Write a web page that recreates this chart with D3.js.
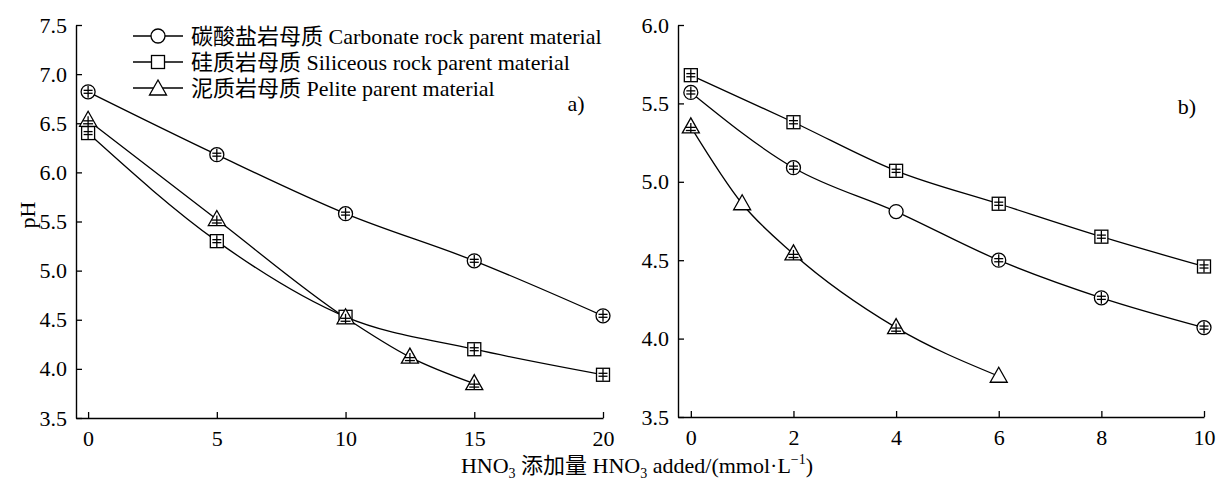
<!DOCTYPE html>
<html><head><meta charset="utf-8">
<script src="https://cdn.jsdelivr.net/npm/d3@7"></script>
<style>
body{margin:0;background:#fff;}
text{font-family:"Liberation Serif","Times New Roman","Noto Sans CJK SC",serif;fill:#000;}
</style></head>
<body><svg id="c" width="1225" height="482"></svg>
<script>
// ---- data ----
const seriesNames = ["碳酸盐岩母质 Carbonate rock parent material","硅质岩母质 Siliceous rock parent material","泥质岩母质 Pelite parent material"];
const seriesShapes = ["circle","square","triangle"];
// panel a
const aX_carb = [0,5,10,15,20];
const aY_carb = [6.82,6.18,5.58,5.10,4.54];
const aX_sil = [0,5,10,15,20];
const aY_sil = [6.40,5.30,4.53,4.20,3.94];
const aX_pel = [0,5,10,12.5,15];
const aY_pel = [6.53,5.52,4.52,4.12,3.85];
// panel b
const bX_carb = [0,2,4,6,8,10];
const bY_carb = [5.57,5.09,4.81,4.50,4.26,4.07];
const bX_sil = [0,2,4,6,8,10];
const bY_sil = [5.68,5.38,5.07,4.86,4.65,4.46];
const bX_pel = [0,1,2,4,6];
const bY_pel = [5.35,4.86,4.54,4.07,3.76];
const errA = 0.015, errB = 0.01;
const aXTicks = [0,5,10,15,20];
const aYTicks = [3.5,4.0,4.5,5.0,5.5,6.0,6.5,7.0,7.5];
const bXTicks = [0,2,4,6,8,10];
const bYTicks = [3.5,4.0,4.5,5.0,5.5,6.0];

const svg = d3.select("#c");
const FS = 22;
const FF = "'Liberation Serif','Times New Roman','Noto Sans CJK SC',serif";

function panel(cfg){
  const g = svg.append("g");
  const x = d3.scaleLinear().domain(cfg.xd).range([cfg.x0, cfg.x1]);
  const y = d3.scaleLinear().domain(cfg.yd).range([cfg.y0, cfg.y1]);
  const xa = g.append("g").attr("transform",`translate(0,${cfg.y0})`)
    .call(d3.axisBottom(x).tickValues(cfg.xt).tickSizeInner(-6).tickSizeOuter(0).tickPadding(12).tickFormat(d3.format("d")));
  const ya = g.append("g").attr("transform",`translate(${cfg.x0},0)`)
    .call(d3.axisLeft(y).tickValues(cfg.yt).tickSizeInner(-6).tickSizeOuter(0).tickPadding(9).tickFormat(d3.format(".1f")));
  [xa,ya].forEach(a=>{a.attr("font-family",FF).attr("font-size",FS);
    a.select(".domain").attr("stroke","#000").attr("stroke-width",1.4);
    a.selectAll(".tick line").attr("stroke","#000").attr("stroke-width",1.3);
    a.selectAll("text").attr("font-size",FS).attr("font-family",FF);});
  xa.selectAll("text").attr("dy","0.71em");
  const line = d3.line().x(d=>x(d[0])).y(d=>y(d[1])).curve(d3.curveMonotoneX);
  cfg.series.forEach((s,i)=>{
    const pts = s.xs.map((v,j)=>[v,s.ys[j]]);
    g.append("path").attr("d",line(pts)).attr("fill","none").attr("stroke","#000").attr("stroke-width",1.3);
  });
  cfg.series.forEach((s,i)=>{
    const pts = s.xs.map((v,j)=>[v,s.ys[j]]);
    pts.forEach((p,j)=>{
      const cx=x(p[0]), cy=y(p[1]);
      const sh = seriesShapes[i];
      drawMarker(g, sh, cx, cy);
      if(!(s.noErr && s.noErr.includes(j))){
        const e = Math.abs(y(p[1]+cfg.err)-cy);
        const yo = sh=="triangle"?2:0;
        const top = sh=="triangle"? cy-4 : cy-6, bot = sh=="triangle"? cy+6 : cy+6;
        const w = sh=="triangle"?5:4.5;
        g.append("line").attr("x1",cx).attr("x2",cx).attr("y1",top).attr("y2",bot).attr("stroke","#000").attr("stroke-width",1.3);
        g.append("line").attr("x1",cx-w).attr("x2",cx+w).attr("y1",cy+yo-e).attr("y2",cy+yo-e).attr("stroke","#000").attr("stroke-width",1.3);
        g.append("line").attr("x1",cx-w).attr("x2",cx+w).attr("y1",cy+yo+e).attr("y2",cy+yo+e).attr("stroke","#000").attr("stroke-width",1.3);
      }
    });
  });
  g.append("text").attr("x",cfg.labX).attr("y",cfg.labY).attr("font-size",FS).attr("text-anchor","middle").text(cfg.label);
}

function drawMarker(g, shape, cx, cy){
  if(shape=="circle") g.append("circle").attr("cx",cx).attr("cy",cy).attr("r",7).attr("fill","#fff").attr("stroke","#000").attr("stroke-width",1.3);
  else if(shape=="square") g.append("rect").attr("x",cx-6.5).attr("y",cy-6.5).attr("width",13).attr("height",13).attr("fill","#fff").attr("stroke","#000").attr("stroke-width",1.3);
  else g.append("path").attr("d",`M${cx},${cy-9}L${cx+8.5},${cy+6}L${cx-8.5},${cy+6}Z`).attr("fill","#fff").attr("stroke","#000").attr("stroke-width",1.3);
}

panel({xd:[-0.47,20], yd:[3.5,7.5], x0:76, x1:603, y0:418, y1:25, xt:aXTicks, yt:aYTicks, err:errA,
  series:[{xs:aX_carb,ys:aY_carb},{xs:aX_sil,ys:aY_sil},{xs:aX_pel,ys:aY_pel}], label:"a)", labX:576, labY:111});
panel({xd:[-0.25,10], yd:[3.5,6.0], x0:678, x1:1204, y0:417, y1:25, xt:bXTicks, yt:bYTicks, err:errB,
  series:[{xs:bX_carb,ys:bY_carb,noErr:[2]},{xs:bX_sil,ys:bY_sil},{xs:bX_pel,ys:bY_pel,noErr:[1,4]}], label:"b)", labX:1187, labY:114});

// legend
seriesNames.forEach((n,i)=>{
  const yy = 36 + i*26;
  svg.append("line").attr("x1",133).attr("x2",183).attr("y1",yy).attr("y2",yy).attr("stroke","#000").attr("stroke-width",1.3);
  drawMarker(svg, seriesShapes[i], 158, yy + (seriesShapes[i]=="triangle"?1:0));
  svg.append("text").attr("x",191).attr("y",yy+8).attr("font-size",FS).attr("font-family",FF).text(n);
});

// y label
svg.append("text").attr("transform","translate(35,215) rotate(-90)").attr("text-anchor","middle").attr("font-size",FS).attr("font-family",FF).text("pH");
// x label
const xl = svg.append("text").attr("x",637).attr("y",473).attr("text-anchor","middle").attr("font-size",FS).attr("font-family",FF);
xl.append("tspan").text("HNO");
xl.append("tspan").attr("font-size",14).attr("dy",5).text("3");
xl.append("tspan").attr("dy",-5).text(" 添加量 HNO");
xl.append("tspan").attr("font-size",14).attr("dy",5).text("3");
xl.append("tspan").attr("dy",-5).text(" added/(mmol·L");
xl.append("tspan").attr("font-size",14).attr("dy",-9).text("−1");
xl.append("tspan").attr("dy",9).text(")");
</script></body></html>
